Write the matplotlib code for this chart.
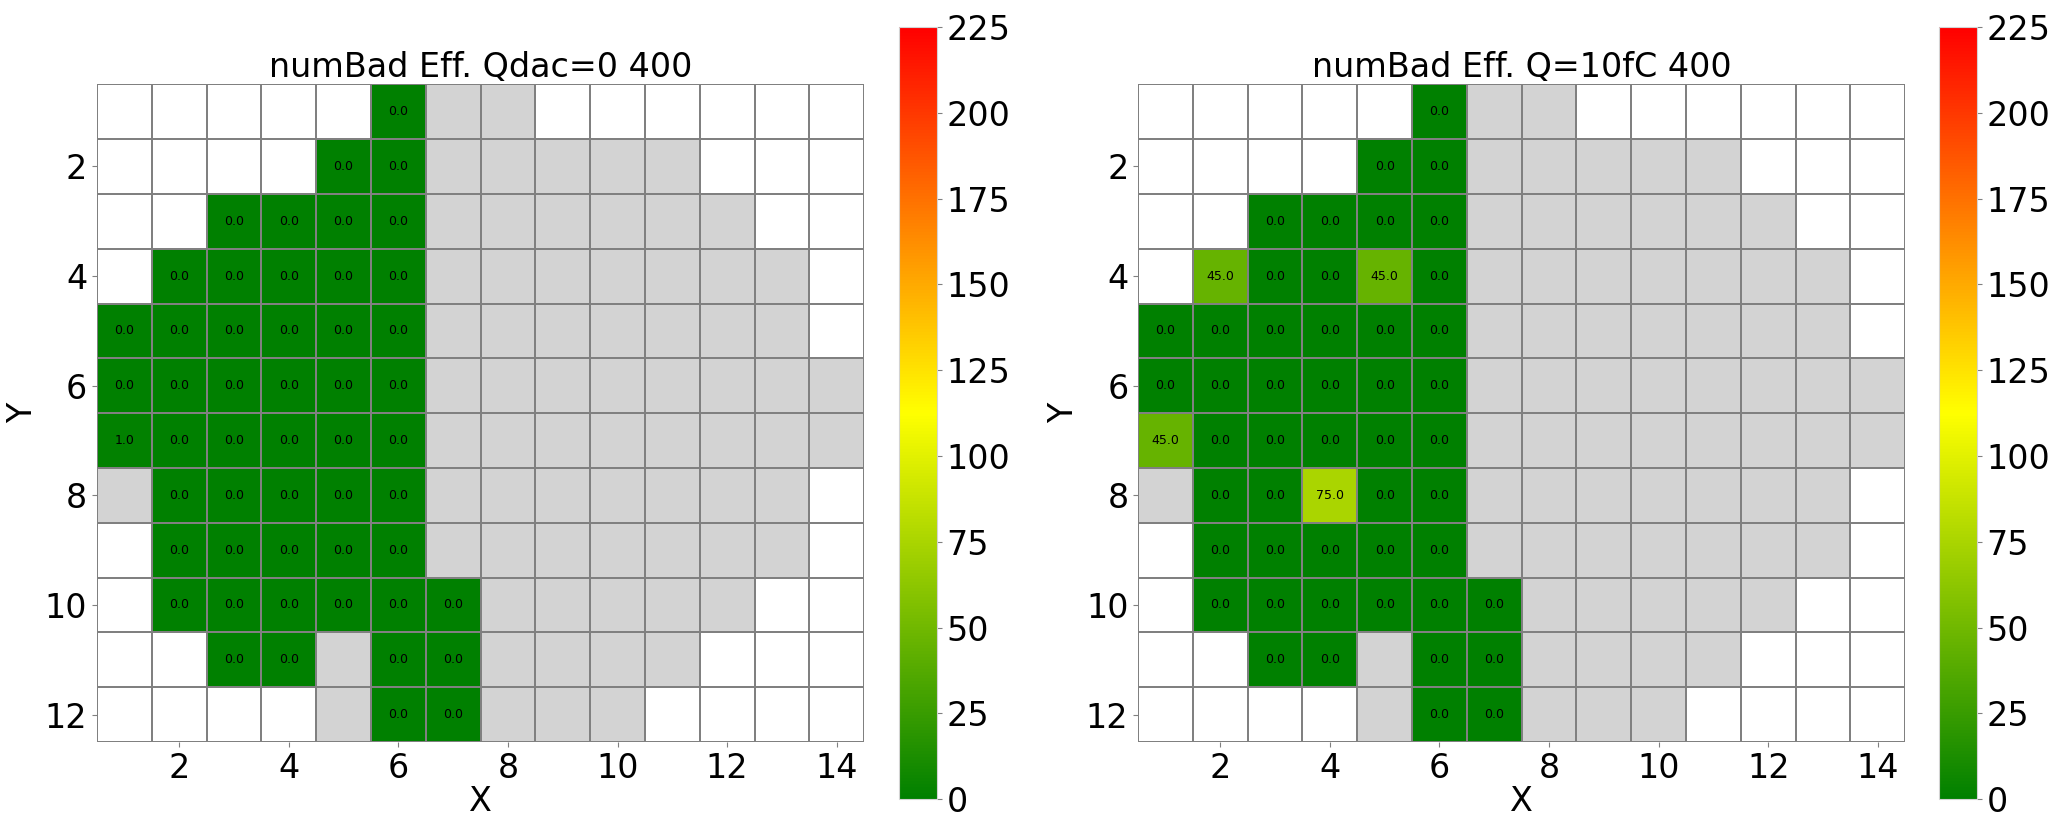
import numpy as np
import matplotlib
matplotlib.use("Agg")
import matplotlib.pyplot as plt
from matplotlib.colors import LinearSegmentedColormap, ListedColormap

nan = np.nan

# cell layout per row (Y = 1..12), columns X = 1..14
# '.' = no channel (white), 'g' = channel without data (grey), 'd' = measured
layout = [
    ".....dgg......",
    "....ddggggg...",
    "..ddddgggggg..",
    ".dddddggggggg.",
    "ddddddggggggg.",
    "ddddddgggggggg",
    "ddddddgggggggg",
    "gdddddggggggg.",
    ".dddddggggggg.",
    ".ddddddggggg..",
    "..ddgddgggg...",
    "....gddggg....",
]

# non-zero values (x, y, value); every other measured cell is 0.0
bad_qdac0 = [(1, 7, 1.0)]
bad_q10fc = [(2, 4, 45.0), (5, 4, 45.0), (1, 7, 45.0), (4, 8, 75.0)]

titles = ["numBad Eff. Qdac=0 400", "numBad Eff. Q=10fC 400"]
vmin, vmax = 0, 225
cbar_ticks = [0, 25, 50, 75, 100, 125, 150, 175, 200, 225]

ny, nx = len(layout), 14
kind = np.zeros((ny, nx))
for j, row in enumerate(layout):
    for i, ch in enumerate(row[:nx]):
        kind[j, i] = {".": 0, "g": 1, "d": 2}[ch]


def make_values(extra):
    v = np.where(kind == 2, 0.0, nan)
    for x, y, val in extra:
        v[y - 1, x - 1] = val
    return v


panels = [make_values(bad_qdac0), make_values(bad_q10fc)]

cmap = LinearSegmentedColormap.from_list("gyr", ["green", "yellow", "red"])
bg_cmap = ListedColormap(["white", "lightgrey", "white"])

fig = plt.figure(figsize=(20.51, 8.15), dpi=100)
ax_pos = [[0.0473, 0.0896, 0.374, 0.807], [0.5549, 0.0896, 0.374, 0.807]]
cb_pos = [[0.4383, 0.0196, 0.0185, 0.947], [0.9454, 0.0196, 0.0185, 0.947]]

xe = np.arange(0.5, nx + 1, 1)
ye = np.arange(0.5, ny + 1, 1)

for k in range(2):
    ax = fig.add_axes(ax_pos[k])
    vals = panels[k]
    ax.pcolormesh(xe, ye, kind, cmap=bg_cmap, vmin=0, vmax=2,
                  edgecolors="grey", linewidth=1.2)
    mesh = ax.pcolormesh(xe, ye, np.ma.masked_invalid(vals), cmap=cmap,
                         vmin=vmin, vmax=vmax, edgecolors="grey", linewidth=1.2)
    for j in range(ny):
        for i in range(nx):
            if not np.isnan(vals[j, i]):
                ax.text(i + 1, j + 1, f"{vals[j, i]:.1f}", ha="center",
                        va="center", fontsize=9, color="black")
    ax.set_xlim(0.5, nx + 0.5)
    ax.set_ylim(ny + 0.5, 0.5)
    ax.set_xticks(range(2, nx + 1, 2))
    ax.set_yticks(range(2, ny + 1, 2))
    ax.tick_params(labelsize=24, color="grey")
    for s in ax.spines.values():
        s.set_visible(False)
    ax.set_xlabel("X", fontsize=24, labelpad=0)
    ax.set_ylabel("Y", fontsize=24)
    ax.set_title(titles[k], fontsize=24, pad=4)

    cax = fig.add_axes(cb_pos[k])
    cb = fig.colorbar(mesh, cax=cax, ticks=cbar_ticks)
    cb.ax.tick_params(labelsize=24, color="grey")
    cb.outline.set_edgecolor("lightgrey")

fig.savefig("out.png", dpi=100)
